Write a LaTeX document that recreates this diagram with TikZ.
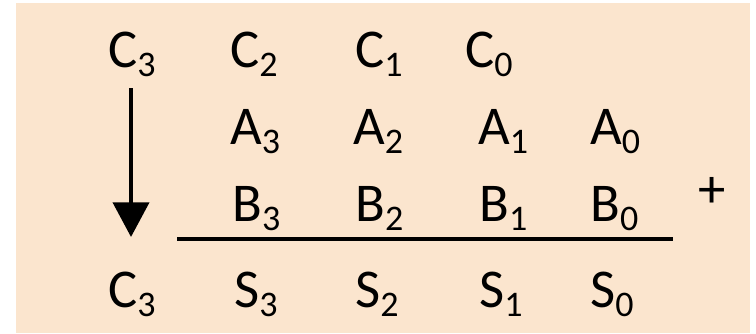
\documentclass[tikz,border=0pt]{standalone}
\usepackage{fontspec}
\setmainfont[Numbers=Lining]{Carlito}
\usepackage{xcolor}
\usetikzlibrary{arrows.meta}
\definecolor{peach}{RGB}{251,229,206}
\newcommand{\bitsub}[1]{\raisebox{-6.75pt}{\fontsize{27}{27}\selectfont #1}}

\begin{document}
\begin{tikzpicture}[x=0.75pt, y=-0.75pt,
  bit/.style={anchor=base west, inner sep=0pt, font=\fontsize{41}{41}\selectfont},
  sign/.style={anchor=center, inner sep=0pt, font=\fontsize{41}{41}\selectfont},
  carryarrow/.style={line width=3pt, -{Triangle[width=27pt, length=26pt]}},
  sumrule/.style={line width=2.6pt}]

\useasboundingbox (0,0) rectangle (756,334);
\fill[peach] (16,3) rectangle (750,333);

% carry row
\node[bit] (c3in) at (108,68) {C\bitsub{3}};
\node[bit] (c2)   at (230,68) {C\bitsub{2}};
\node[bit] (c1)   at (355,68) {C\bitsub{1}};
\node[bit] (c0)   at (465,68) {C\bitsub{0}};

% operand A
\node[bit] (a3) at (230,145) {A\bitsub{3}};
\node[bit] (a2) at (353,145) {A\bitsub{2}};
\node[bit] (a1) at (478,145) {A\bitsub{1}};
\node[bit] (a0) at (590,145) {A\bitsub{0}};

% operand B
\node[bit] (b3) at (232,222) {B\bitsub{3}};
\node[bit] (b2) at (355,222) {B\bitsub{2}};
\node[bit] (b1) at (479,222) {B\bitsub{1}};
\node[bit] (b0) at (590,222) {B\bitsub{0}};
\node[sign] (plus) at (712,192) {+};

% sum row
\node[bit] (c3out) at (108,308) {C\bitsub{3}};
\node[bit] (s3) at (234,308) {S\bitsub{3}};
\node[bit] (s2) at (355,308) {S\bitsub{2}};
\node[bit] (s1) at (479,308) {S\bitsub{1}};
\node[bit] (s0) at (590,308) {S\bitsub{0}};

\coordinate (tip) at (131,237);
\coordinate (rulestart) at (177,239);
\coordinate (ruleend) at (673,239);

\draw[carryarrow] ([yshift=-8pt]c3in.south -| tip) -- (tip);
\draw[sumrule] (rulestart) -- (ruleend);
\end{tikzpicture}
\end{document}
